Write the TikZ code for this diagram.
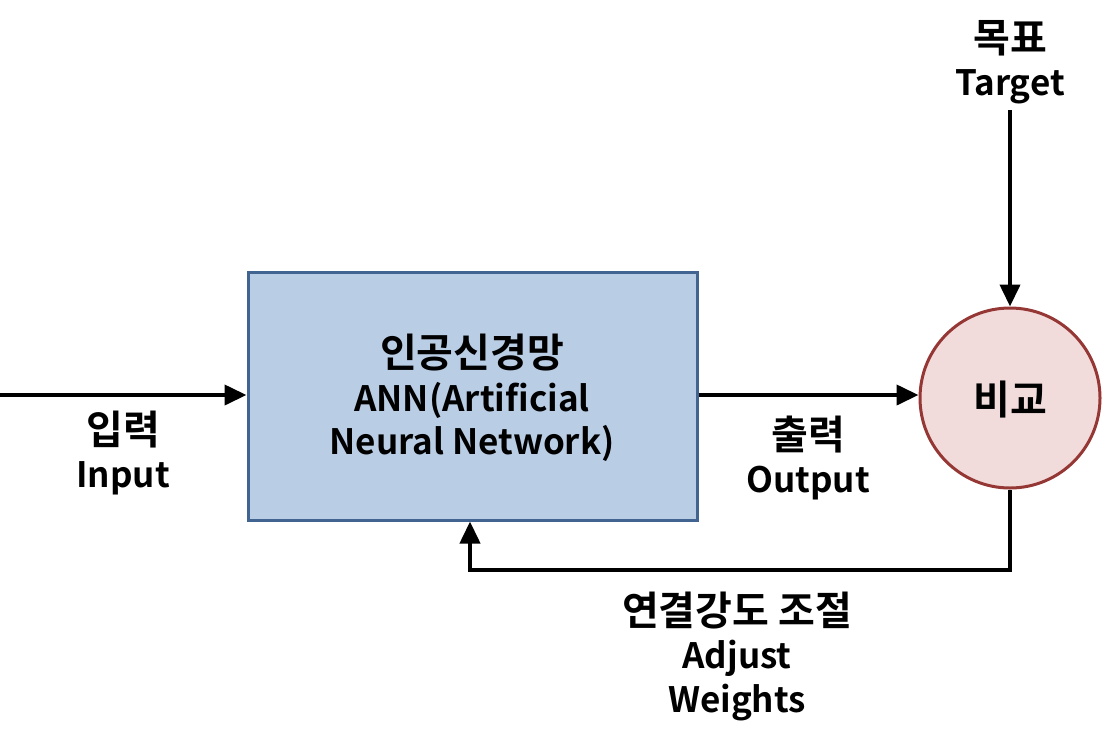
\documentclass[tikz,border=0pt]{standalone}
\usepackage{fontspec}
\setmainfont{Noto Sans CJK KR}[BoldFont={* Bold}]
\usetikzlibrary{arrows.meta}
\definecolor{boxfill}{RGB}{185,205,229}
\definecolor{boxline}{RGB}{65,100,145}
\definecolor{circfill}{RGB}{242,220,219}
\definecolor{circline}{RGB}{149,55,53}
\newcommand{\kr}[1]{{\fontsize{40}{43.5}\selectfont #1}}
\tikzset{
  lbl/.style={align=center,font=\bfseries\fontsize{35}{43.5}\selectfont,inner sep=0pt},
  conn/.style={line width=4pt,-{Triangle[length=22pt,width=20pt]}},
}
\begin{document}
\begin{tikzpicture}[x=1pt,y=-1pt]
\useasboundingbox (0,0) rectangle (1110,745);
\node[draw=boxline,fill=boxfill,line width=3pt,minimum width=449pt,minimum height=248pt,inner sep=0pt] (ann) at (472.5,396) {};
\node[lbl] (anntxt) at (472,398) {\kr{인공신경망}\\ANN(Artificial\\Neural Network)};
\node[circle,draw=circline,fill=circfill,line width=3pt,minimum size=180pt,inner sep=0pt] (cmp) at (1010,398) {};
\node[lbl] (cmptxt) at (1010,400) {\kr{비교}};
\coordinate (in) at (0,395);
\node[lbl] (target) at (1010,62) {\kr{목표}\\Target};
\coordinate (tgt) at (1010,110);
\node[lbl] (intxt) at (123,453) {\kr{입력}\\Input};
\node[lbl] (outtxt) at (808,458) {\kr{출력}\\Output};
\node[lbl] (adj) at (737,656) {\kr{연결강도 조절}\\Adjust\\Weights};
\draw[conn] (in) -- (ann.west |- in);
\draw[conn] (ann.east |- in) -- (cmp.west |- in);
\draw[conn] (tgt) -- (cmp.north);
\coordinate (fb) at (470,570);
\draw[conn] (cmp.south) |- (fb) -- (ann.south -| fb);
\end{tikzpicture}
\end{document}
